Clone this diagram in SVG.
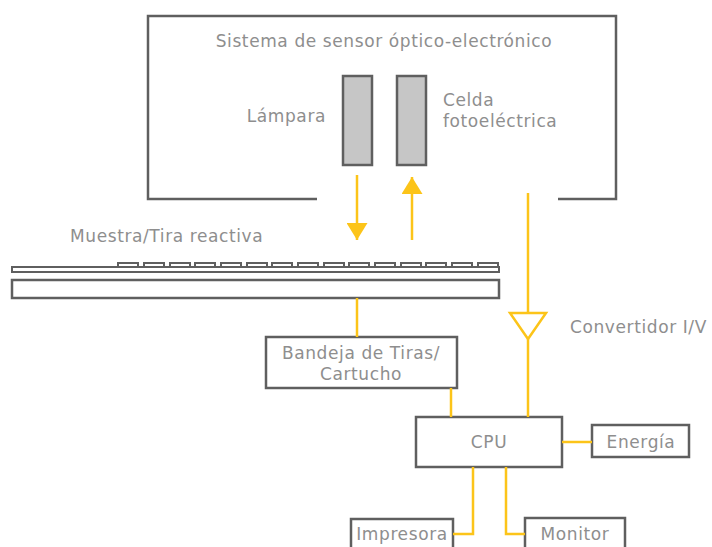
<svg xmlns="http://www.w3.org/2000/svg" width="712" height="547" viewBox="0 0 712 547">
<style>
.box{fill:#fff;stroke:#5f5f5f;stroke-width:2.5}
.cell{fill:#c6c6c6;stroke:#5f5f5f;stroke-width:2.5}
.wire{fill:none;stroke:#fcc419;stroke-width:2.5}
.t{font-family:"DejaVu Sans","Liberation Sans",sans-serif;font-size:17px;letter-spacing:0.6px;fill:#8e8e8e}
</style>
<defs>
<marker id="ah" viewBox="0 0 17 21" refX="17" refY="10.5" markerWidth="17" markerHeight="21" markerUnits="userSpaceOnUse" orient="auto">
<path d="M0,0 L17,10.5 L0,21 Z" fill="#fcc419"/>
</marker>
</defs>
<rect width="712" height="547" fill="#fff"/>
<g id="sensor-system">
<path class="box" style="fill:none" d="M317,199 H148 V16 H616 V199 H558"/>
<text class="t" x="384" y="47" text-anchor="middle">Sistema de sensor óptico-electrónico</text>
</g>
<g id="lampara">
<rect class="cell" x="343" y="76" width="29" height="89"/>
<text class="t" x="326" y="122" text-anchor="end">Lámpara</text>
</g>
<g id="celda">
<rect class="cell" x="397" y="76" width="29" height="89"/>
<text class="t" x="443" y="106">Celda</text>
<text class="t" x="443" y="127">fotoeléctrica</text>
</g>
<g id="muestra">
<text class="t" x="70" y="242">Muestra/Tira reactiva</text>
<path class="box" d="M118,267 V263 H138 V267 M144,267 V263 H164 V267 M170,267 V263 H190 V267 M195,267 V263 H215 V267 M221,267 V263 H241 V267 M247,267 V263 H267 V267 M272,267 V263 H292 V267 M298,267 V263 H318 V267 M324,267 V263 H344 V267 M349,267 V263 H369 V267 M375,267 V263 H395 V267 M401,267 V263 H421 V267 M426,267 V263 H446 V267 M452,267 V263 H472 V267 M478,267 V263 H498 V267" style="fill:none;stroke-width:2"/>
<rect class="box" x="12" y="267" width="487" height="5" style="stroke-width:2"/>
<rect class="box" x="12" y="280" width="487" height="18"/>
</g>
<g id="bandeja">
<rect class="box" x="266" y="337" width="191" height="51"/>
<text class="t" x="361" y="359" text-anchor="middle">Bandeja de Tiras/</text>
<text class="t" x="361" y="380" text-anchor="middle">Cartucho</text>
</g>
<g id="convertidor">
<path class="wire" d="M510,313 H546 L528,339 Z"/>
<text class="t" x="570" y="333">Convertidor I/V</text>
</g>
<g id="cpu">
<rect class="box" x="416" y="417" width="146" height="50"/>
<text class="t" x="489" y="448" text-anchor="middle">CPU</text>
</g>
<g id="energia">
<rect class="box" x="592" y="425" width="97" height="32"/>
<text class="t" x="641" y="448" text-anchor="middle">Energía</text>
</g>
<g id="impresora">
<rect class="box" x="351" y="519" width="102" height="40"/>
<text class="t" x="402" y="540" text-anchor="middle">Impresora</text>
</g>
<g id="monitor">
<rect class="box" x="525" y="518" width="100" height="40"/>
<text class="t" x="575" y="540" text-anchor="middle">Monitor</text>
</g>
<g id="connectors">
<line class="wire" x1="357" y1="175" x2="357" y2="240" marker-end="url(#ah)"/>
<line class="wire" x1="412" y1="240" x2="412" y2="177" marker-end="url(#ah)"/>
<line class="wire" x1="528" y1="193" x2="528" y2="313"/>
<line class="wire" x1="528" y1="339" x2="528" y2="417"/>
<line class="wire" x1="357" y1="298" x2="357" y2="337"/>
<line class="wire" x1="451" y1="388" x2="451" y2="417"/>
<line class="wire" x1="562" y1="442" x2="592" y2="442"/>
<path class="wire" d="M473,467 V534 H453"/>
<path class="wire" d="M506,467 V534 H525"/>
</g>
</svg>
